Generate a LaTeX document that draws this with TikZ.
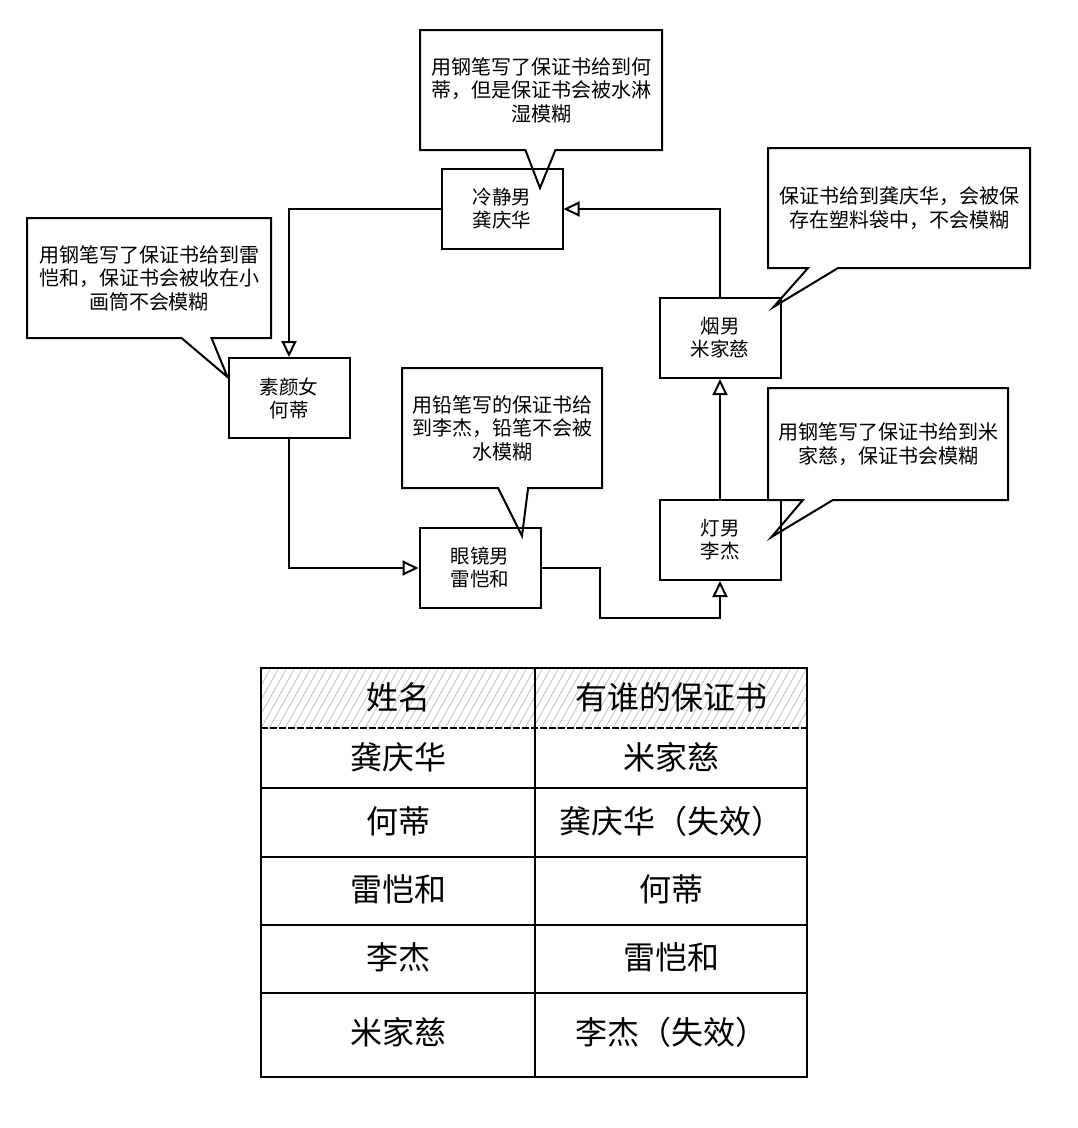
\documentclass[tikz,border=0pt]{standalone}
\usepackage{fontspec}
\setmainfont{Noto Sans CJK SC}
\usetikzlibrary{arrows.meta,shapes.callouts,calc}

\tikzset{
  person/.style={draw, line width=2pt, minimum width=121pt, minimum height=80pt,
    align=center, inner sep=0pt, font=\fontsize{19.5}{23}\selectfont},
  bubble/.style={rectangle callout, draw, line width=2pt, align=center, inner sep=0pt,
    callout pointer width=30pt, font=\fontsize{20}{23.5}\selectfont},
  flow/.style={line width=2pt, -{Triangle[open,length=16pt,width=15pt,line width=2pt]}},
  cell/.style={font=\fontsize{32}{34}\selectfont},
}

\begin{document}
\begin{tikzpicture}[x=1pt,y=-1pt]
\useasboundingbox (0,0) rectangle (1078,1128);
\fill[white] (0,0) rectangle (1078,1128);

% People
\node[person] (kor) at (502,209) {冷静男\\龚庆华};
\node[person] (su) at (289,398) {素颜女\\何蒂};
\node[person] (yj) at (480,568) {眼镜男\\雷恺和};
\node[person] (deng) at (720,540) {灯男\\李杰};
\node[person] (yan) at (720,338) {烟男\\米家慈};

% Speech bubbles
\node[bubble, minimum width=242pt, minimum height=120pt,
  callout absolute pointer={($(kor.north)+(38,20)$)}] (note kor) at (541,90)
  {用钢笔写了保证书给到何\\蒂，但是保证书会被水淋\\湿模糊};
\node[bubble, minimum width=244pt, minimum height=120pt,
  callout absolute pointer={($(su.north west)+(0,20)$)}] (note su) at (149,278)
  {用钢笔写了保证书给到雷\\恺和，保证书会被收在小\\画筒不会模糊};
\node[bubble, minimum width=200pt, minimum height=120pt,
  callout absolute pointer={($(yj.north)+(42,9)$)}] (note yj) at (502,428)
  {用铅笔写的保证书给\\到李杰，铅笔不会被\\水模糊};
\node[bubble, minimum width=262pt, minimum height=120pt,
  callout absolute pointer={($(yan.north east)+(-8,10)$)}] (note yan) at (899,208)
  {保证书给到龚庆华，会被保\\存在塑料袋中，不会模糊};
\node[bubble, minimum width=240pt, minimum height=112pt,
  callout absolute pointer={($(deng.east)+(-10,-3)$)}] (note deng) at (888,444)
  {用钢笔写了保证书给到米\\家慈，保证书会模糊};

% Flow of the letters
\coordinate (turn) at (600,618);
\draw[flow] (kor.west) -| (su.north);
\draw[flow] (su.south) |- (yj.west);
\draw[flow] (yj.east) -| (turn) -| (deng.south);
\draw[flow] (deng.north) -- (yan.south);
\draw[flow] (yan.north) |- (kor.east);

% Table
\begin{scope}
  \clip (261,668) rectangle (807,728);
  \foreach \x in {220,228,...,810}
    \draw[gray!45, line width=0.9pt] (\x,730) -- ++(36,-64);
\end{scope}
\draw[line width=2pt] (261,668) rectangle (807,1077);
\draw[line width=2pt] (535,668) -- (535,1077);
\draw[line width=2.5pt, dash pattern=on 7pt off 2pt] (261,728) -- (807,728);
\foreach \y in {788,857,925,993}
  \draw[line width=2pt] (261,\y) -- (807,\y);

\foreach \y/\a/\b in {697/姓名/有谁的保证书, 757/龚庆华/米家慈,
    821/何蒂/龚庆华（失效）, 889/雷恺和/何蒂, 957/李杰/雷恺和,
    1032/米家慈/李杰（失效）}{
  \node[cell] (name-\y) at (398,\y) {\a};
  \node[cell] (owner-\y) at (671,\y) {\b};
}

\end{tikzpicture}
\end{document}
